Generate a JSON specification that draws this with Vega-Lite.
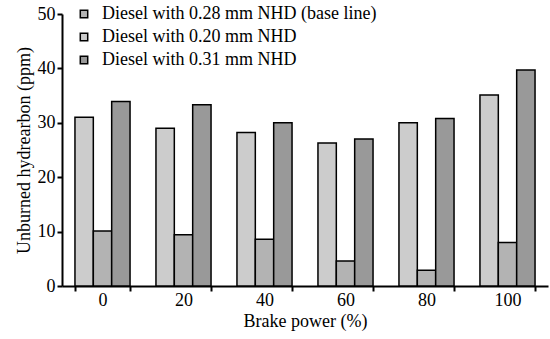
{
  "$schema": "https://vega.github.io/schema/vega-lite/v6.json",
  "width": 486,
  "height": 272,
  "autosize": {"type": "none"},
  "padding": {"left": 62, "top": 14, "right": 2, "bottom": 53},
  "background": "white",
  "config": {
    "font": "Liberation Serif",
    "view": {"stroke": null},
    "axis": {"grid": false, "domainColor": "black", "tickColor": "black", "labelColor": "black", "titleColor": "black", "labelFont": "Liberation Serif, Times New Roman, serif", "titleFont": "Liberation Serif, Times New Roman, serif", "labelFontSize": 18, "titleFontSize": 18, "titleFontWeight": "normal", "domainWidth": 2, "tickWidth": 2}
  },
  "data": {
    "values": [
      {"power": "0", "series": "Diesel with 0.20 mm NHD", "ppm": 31.0},
      {"power": "0", "series": "Diesel with 0.28 mm NHD (base line)", "ppm": 10.1},
      {"power": "0", "series": "Diesel with 0.31 mm NHD", "ppm": 33.9},
      {"power": "20", "series": "Diesel with 0.20 mm NHD", "ppm": 29.0},
      {"power": "20", "series": "Diesel with 0.28 mm NHD (base line)", "ppm": 9.4},
      {"power": "20", "series": "Diesel with 0.31 mm NHD", "ppm": 33.3},
      {"power": "40", "series": "Diesel with 0.20 mm NHD", "ppm": 28.2},
      {"power": "40", "series": "Diesel with 0.28 mm NHD (base line)", "ppm": 8.6},
      {"power": "40", "series": "Diesel with 0.31 mm NHD", "ppm": 30.0},
      {"power": "60", "series": "Diesel with 0.20 mm NHD", "ppm": 26.3},
      {"power": "60", "series": "Diesel with 0.28 mm NHD (base line)", "ppm": 4.6},
      {"power": "60", "series": "Diesel with 0.31 mm NHD", "ppm": 27.0},
      {"power": "80", "series": "Diesel with 0.20 mm NHD", "ppm": 30.0},
      {"power": "80", "series": "Diesel with 0.28 mm NHD (base line)", "ppm": 2.9},
      {"power": "80", "series": "Diesel with 0.31 mm NHD", "ppm": 30.8},
      {"power": "100", "series": "Diesel with 0.20 mm NHD", "ppm": 35.1},
      {"power": "100", "series": "Diesel with 0.28 mm NHD (base line)", "ppm": 8.0},
      {"power": "100", "series": "Diesel with 0.31 mm NHD", "ppm": 39.7}
    ]
  },
  "mark": {"type": "bar", "stroke": "black", "strokeWidth": 1.5},
  "encoding": {
    "x": {
      "field": "power", "type": "nominal", "sort": ["0", "20", "40", "60", "80", "100"],
      "scale": {"paddingInner": 0.32, "paddingOuter": 0.16},
      "axis": {"title": "Brake power (%)", "labelAngle": 0, "tickBand": "extent", "tickSize": 5, "labelPadding": 0, "titlePadding": 3}
    },
    "xOffset": {
      "field": "series", "type": "nominal",
      "sort": ["Diesel with 0.20 mm NHD", "Diesel with 0.28 mm NHD (base line)", "Diesel with 0.31 mm NHD"],
      "scale": {"paddingInner": 0, "paddingOuter": 0}
    },
    "y": {
      "field": "ppm", "type": "quantitative",
      "scale": {"domain": [0, 50], "nice": false},
      "axis": {"title": "Unburned hydrearbon (ppm)", "values": [0, 10, 20, 30, 40, 50], "tickSize": 5, "labelPadding": 2, "titlePadding": 4}
    },
    "color": {
      "field": "series", "type": "nominal",
      "scale": {
        "domain": ["Diesel with 0.28 mm NHD (base line)", "Diesel with 0.20 mm NHD", "Diesel with 0.31 mm NHD"],
        "range": ["#b3b3b3", "#cccccc", "#999999"]
      },
      "legend": {
        "title": null, "orient": "none", "legendX": 13, "legendY": -9,
        "symbolType": "square", "symbolSize": 55, "symbolStrokeColor": "black", "symbolStrokeWidth": 1.5,
        "labelFont": "Liberation Serif, Times New Roman, serif", "labelFontSize": 18, "labelColor": "black", "labelLimit": 500, "rowPadding": 5, "labelOffset": 9
      }
    }
  }
}
